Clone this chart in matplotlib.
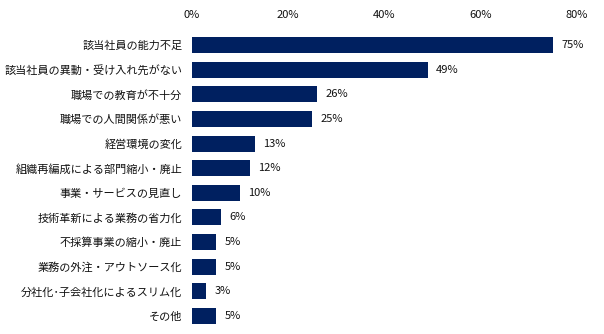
import matplotlib
matplotlib.use("Agg")
import matplotlib.pyplot as plt

plt.rcParams['font.family'] = ['Noto Sans CJK JP', 'DejaVu Sans']

categories = [
    "該当社員の能力不足",
    "該当社員の異動・受け入れ先がない",
    "職場での教育が不十分",
    "職場での人間関係が悪い",
    "経営環境の変化",
    "組織再編成による部門縮小・廃止",
    "事業・サービスの見直し",
    "技術革新による業務の省力化",
    "不採算事業の縮小・廃止",
    "業務の外注・アウトソース化",
    "分社化･子会社化によるスリム化",
    "その他",
]
values = [75, 49, 26, 25, 13, 12, 10, 6, 5, 5, 3, 5]
xticks = [0, 20, 40, 60, 80]
xtick_labels = ["0%", "20%", "40%", "60%", "80%"]

W, H = 604, 334
fig = plt.figure(figsize=(W / 100, H / 100), dpi=100)
left, right = 192 / W, 577 / W
top, bottom = 32.7 / H, 328.3 / H
ax = fig.add_axes([left, 1 - bottom, right - left, bottom - top])

bar_color = "#002060"
text_color = "#111111"
pos = list(range(len(categories)))
ax.barh(pos, values, height=0.65, color=bar_color)
ax.set_ylim(len(categories) - 0.5, -0.5)
ax.set_xlim(0, 80)

for spine in ax.spines.values():
    spine.set_visible(False)

ax.xaxis.tick_top()
ax.set_xticks(xticks)
ax.set_xticklabels(xtick_labels, fontsize=8, color=text_color)
ax.tick_params(axis="x", length=0, pad=9)
ax.set_yticks(pos)
ax.set_yticklabels(categories, fontsize=8, color=text_color)
ax.tick_params(axis="y", length=0, pad=7)

for p, v in zip(pos, values):
    ax.annotate(f"{v}%", xy=(v, p), xytext=(6, 0), textcoords="offset points",
                ha="left", va="center", fontsize=8, color=text_color)

fig.savefig("out.png", dpi=100)
